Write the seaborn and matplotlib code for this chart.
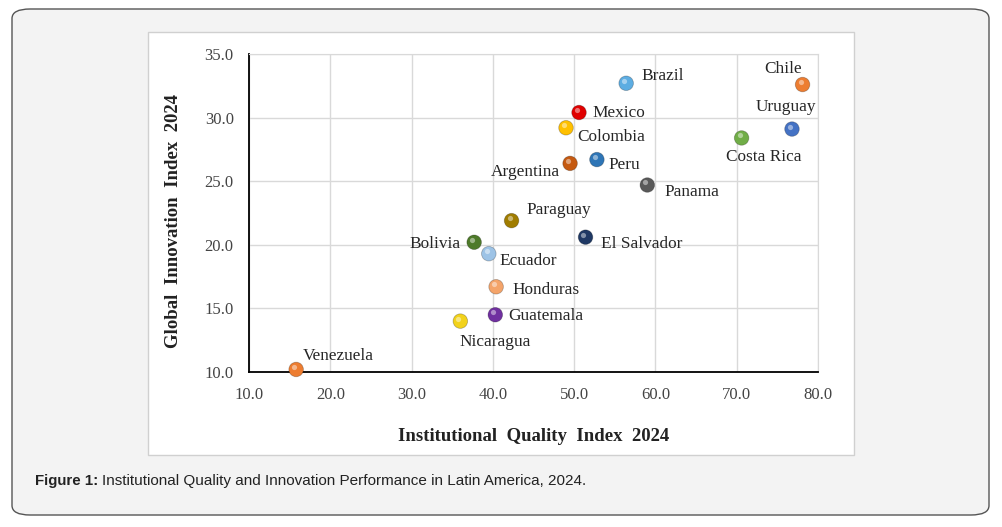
import matplotlib
matplotlib.use("Agg")
import matplotlib.pyplot as plt
import seaborn as sns
import pandas as pd
from matplotlib.patches import FancyBboxPatch, Rectangle

# values
countries = ["Venezuela", "Nicaragua", "Guatemala", "Honduras", "Ecuador", "Bolivia",
             "Paraguay", "El Salvador", "Argentina", "Peru", "Panama", "Colombia",
             "Mexico", "Brazil", "Chile", "Uruguay", "Costa Rica"]
iqi = [15.8, 36.0, 40.3, 40.4, 39.5, 37.7, 42.3, 51.4, 49.5, 52.8, 59.0, 49.0,
       50.6, 56.4, 78.1, 76.8, 70.6]
gii = [10.2, 14.0, 14.5, 16.7, 19.3, 20.2, 21.9, 20.6, 26.4, 26.7, 24.7, 29.2,
       30.4, 32.7, 32.6, 29.1, 28.4]
colors = ["#ED7D31", "#F2D21B", "#7030A0", "#F4A46A", "#9DC3E6", "#4E7A2A",
          "#A07C00", "#1F3864", "#C55A11", "#2E75B6", "#595959", "#FFC000",
          "#E00000", "#5DADE2", "#ED7D31", "#4472C4", "#70AD47"]
# label offsets in points (dx, dy, ha)
offsets = {
    "Venezuela": (5, 10, "left"), "Nicaragua": (25, -15, "center"),
    "Guatemala": (9, -1, "left"), "Honduras": (12, -2, "left"),
    "Ecuador": (8, -5, "left"), "Bolivia": (-10, -1, "right"),
    "Paraguay": (11, 8, "left"), "El Salvador": (11, -5, "left"),
    "Argentina": (-7, -6, "right"), "Peru": (8, -4, "left"),
    "Panama": (12, -5, "left"), "Colombia": (8, -7, "left"),
    "Mexico": (10, 0, "left"), "Brazil": (11, 5, "left"),
    "Chile": (-14, 11, "center"), "Uruguay": (-4, 16, "center"),
    "Costa Rica": (16, -14, "center"),
}

df = pd.DataFrame({"country": countries, "iqi": iqi, "gii": gii})

sns.set_style("white")
plt.rcParams["font.family"] = ["Liberation Serif", "DejaVu Serif"]

fig = plt.figure(figsize=(10.03, 5.27), dpi=100)
fig.patch.set_facecolor("white")

# outer rounded panel and inner white chart box
fig.patches.append(FancyBboxPatch((12 / 1003, 1 - 515 / 527), 977 / 1003, 506 / 527,
                                  boxstyle="round,pad=0,rounding_size=0.018",
                                  transform=fig.transFigure, facecolor="#f3f3f3",
                                  edgecolor="#555555", linewidth=1.0, zorder=-2))
fig.patches.append(Rectangle((148 / 1003, 1 - 455 / 527), 706 / 1003, 423 / 527,
                             transform=fig.transFigure, facecolor="white",
                             edgecolor="#d0d0d0", linewidth=1.0, zorder=-1))

ax = fig.add_axes([249 / 1003, 1 - 372 / 527, 569 / 1003, 318 / 527])
ax.set_zorder(2)
ax.set_facecolor("none")

sns.scatterplot(data=df, x="iqi", y="gii", hue="country", palette=colors,
                s=110, edgecolor="#00000040", linewidth=0.6, legend=False,
                ax=ax, zorder=3, clip_on=False)
# small highlight to hint at the glossy markers
ax.scatter(df["iqi"] - 0.25, df["gii"] + 0.2, s=14, color="white", alpha=0.45,
           linewidths=0, zorder=4, clip_on=False)

for name, x, y in zip(countries, iqi, gii):
    dx, dy, ha = offsets[name]
    ax.annotate(name, (x, y), xytext=(dx, dy), textcoords="offset points",
                ha=ha, va="center", fontsize=12.4, color="#262626", zorder=5)

ax.set_xlim(10, 80)
ax.set_ylim(10, 35)
ax.set_xticks(range(10, 81, 10))
ax.set_yticks(range(10, 36, 5))
ax.set_xticklabels([f"{v:.1f}" for v in range(10, 81, 10)])
ax.set_yticklabels([f"{v:.1f}" for v in range(10, 36, 5)])
ax.tick_params(length=0, labelsize=12, labelcolor="#444444")
ax.tick_params(axis="x", pad=11)
ax.tick_params(axis="y", pad=11)
ax.grid(True, color="#d9d9d9", linewidth=1.0)
ax.set_axisbelow(True)
for side in ["top", "right"]:
    ax.spines[side].set_color("#d9d9d9")
for side in ["left", "bottom"]:
    ax.spines[side].set_color("black")
    ax.spines[side].set_linewidth(1.3)

ax.set_xlabel("Institutional  Quality  Index  2024", fontsize=13.5, fontweight="bold",
              labelpad=18, color="#222222")
ax.set_ylabel("Global  Innovation  Index  2024", fontsize=13.5, fontweight="bold",
              color="#222222")
ax.yaxis.set_label_coords(-0.118, 0.475)

fig.text(35 / 1003, 1 - 481 / 527, "Figure 1:", fontsize=10.8, fontweight="bold",
         family=["Liberation Sans", "DejaVu Sans"], va="center", color="#222222")
fig.text(102 / 1003, 1 - 481 / 527,
         "Institutional Quality and Innovation Performance in Latin America, 2024.",
         fontsize=11, family=["Liberation Sans", "DejaVu Sans"], va="center",
         color="#222222")

fig.savefig("out.png", dpi=100)
